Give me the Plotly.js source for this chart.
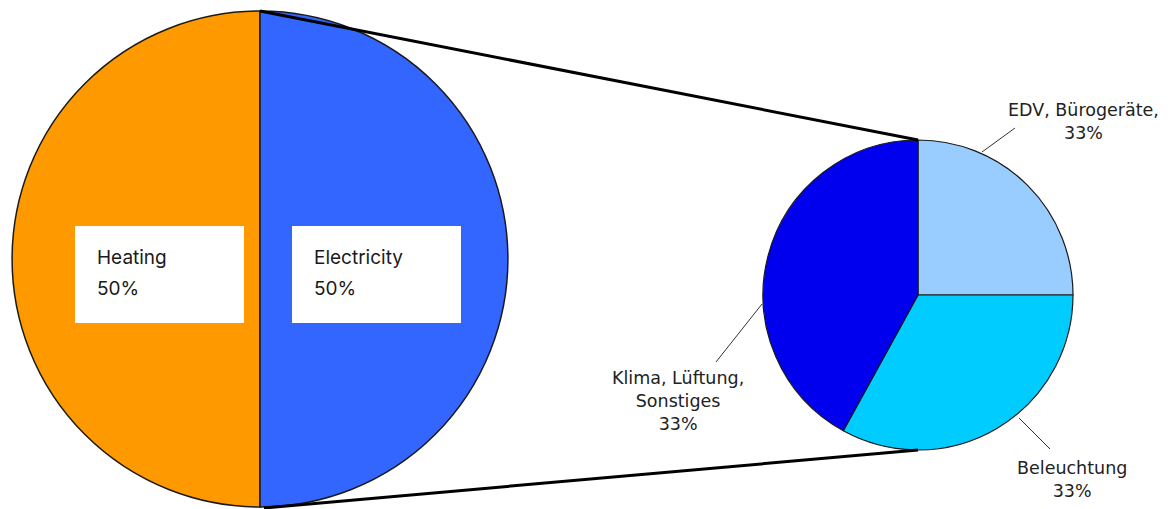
<!DOCTYPE html>
<html>
<head>
<meta charset="utf-8">
<script src="https://cdn.plot.ly/plotly-3.0.1.min.js"></script>
<style>
html,body{margin:0;padding:0;overflow:hidden;background:#fff;}
#chart{width:1171px;height:509px;}
</style>
</head>
<body>
<div id="chart"></div>
<script>
// ---- data ----
const mainLabels = ["Heating", "Electricity"];
const mainValues = [50, 50];
const mainPercentText = ["50%", "50%"];
const mainColors = ["#FF9900", "#3366FF"];

const subLabels = ["EDV, Bürogeräte,", "Beleuchtung", "Klima, Lüftung,<br>Sonstiges"];
const subValues = [25, 33, 42];            // visual slice sizes
const subPercentText = ["33%", "33%", "33%"]; // printed labels
const subColors = ["#99CCFF", "#00CCFF", "#0000EE"];

// ---- geometry helpers (pixels -> paper) ----
const W = 1171, H = 509;
const px = x => x / W;
const py = y => 1 - y / H;

const big = {cx: 260, cy: 259, r: 248};
const small = {cx: 918, cy: 295, r: 155};

function domainOf(p) {
  return {x: [px(p.cx - p.r), px(p.cx + p.r)], y: [py(p.cy + p.r), py(p.cy - p.r)]};
}

const traces = [
  {
    type: "pie", labels: mainLabels, values: mainValues, sort: false,
    direction: "counterclockwise", rotation: 180,
    marker: {colors: mainColors, line: {color: "#1a1a1a", width: 1.5}},
    textinfo: "none", hoverinfo: "label+percent",
    domain: domainOf(big), showlegend: false
  },
  {
    type: "pie", labels: subLabels, values: subValues, sort: false,
    direction: "clockwise", rotation: 0,
    marker: {colors: subColors, line: {color: "#1a1a1a", width: 1.2}},
    textinfo: "none", hoverinfo: "label",
    domain: domainOf(small), showlegend: false
  }
];

const shapes = [];
const annotations = [];

// connector lines between the pies
shapes.push({type: "line", xref: "paper", yref: "paper",
  x0: px(big.cx), y0: py(big.cy - big.r), x1: px(small.cx), y1: py(small.cy - small.r),
  line: {color: "#000", width: 3}});
shapes.push({type: "line", xref: "paper", yref: "paper",
  x0: px(big.cx + 4), y0: py(big.cy + big.r + 1), x1: px(small.cx), y1: py(small.cy + small.r),
  line: {color: "#000", width: 3}});

// white label boxes on the main pie
const boxLeft = [75, 292];
mainLabels.forEach((lab, i) => {
  shapes.push({type: "rect", xref: "paper", yref: "paper",
    x0: px(boxLeft[i]), x1: px(boxLeft[i] + 169), y0: py(323), y1: py(226),
    fillcolor: "#ffffff", line: {width: 0}});
  annotations.push({xref: "paper", yref: "paper", x: px(boxLeft[i] + 20), y: py(257),
    xanchor: "left", yanchor: "middle", showarrow: false, text: lab,
    font: {family: "Inter, 'Open Sans', sans-serif", size: 19, color: "#1a1a1a"}});
  annotations.push({xref: "paper", yref: "paper", x: px(boxLeft[i] + 20), y: py(288),
    xanchor: "left", yanchor: "middle", showarrow: false, text: mainPercentText[i],
    font: {family: "Inter, 'Open Sans', sans-serif", size: 19, color: "#1a1a1a"}});
});

// sub pie labels with leader lines
const subLabelPos = [[1083, 122], [1072, 479], [678, 401]];
const leaders = [[[982, 152], [1015, 128]], [[1019, 418], [1050, 449]], [[762, 304], [716, 362]]];
subLabels.forEach((lab, i) => {
  annotations.push({xref: "paper", yref: "paper", x: px(subLabelPos[i][0]), y: py(subLabelPos[i][1]),
    xanchor: "center", yanchor: "middle", showarrow: false, align: "center",
    text: lab + "<br>" + subPercentText[i],
    font: {family: "'DejaVu Sans', Verdana, sans-serif", size: 17.5, color: "#222"}});
  shapes.push({type: "line", xref: "paper", yref: "paper",
    x0: px(leaders[i][0][0]), y0: py(leaders[i][0][1]), x1: px(leaders[i][1][0]), y1: py(leaders[i][1][1]),
    line: {color: "#333", width: 1}});
});

const layout = {
  width: W, height: H,
  margin: {l: 0, r: 0, t: 0, b: 0},
  paper_bgcolor: "#ffffff", plot_bgcolor: "#ffffff",
  showlegend: false,
  shapes: shapes,
  annotations: annotations
};

Plotly.newPlot("chart", traces, layout, {displayModeBar: false, staticPlot: true});
</script>
</body>
</html>
